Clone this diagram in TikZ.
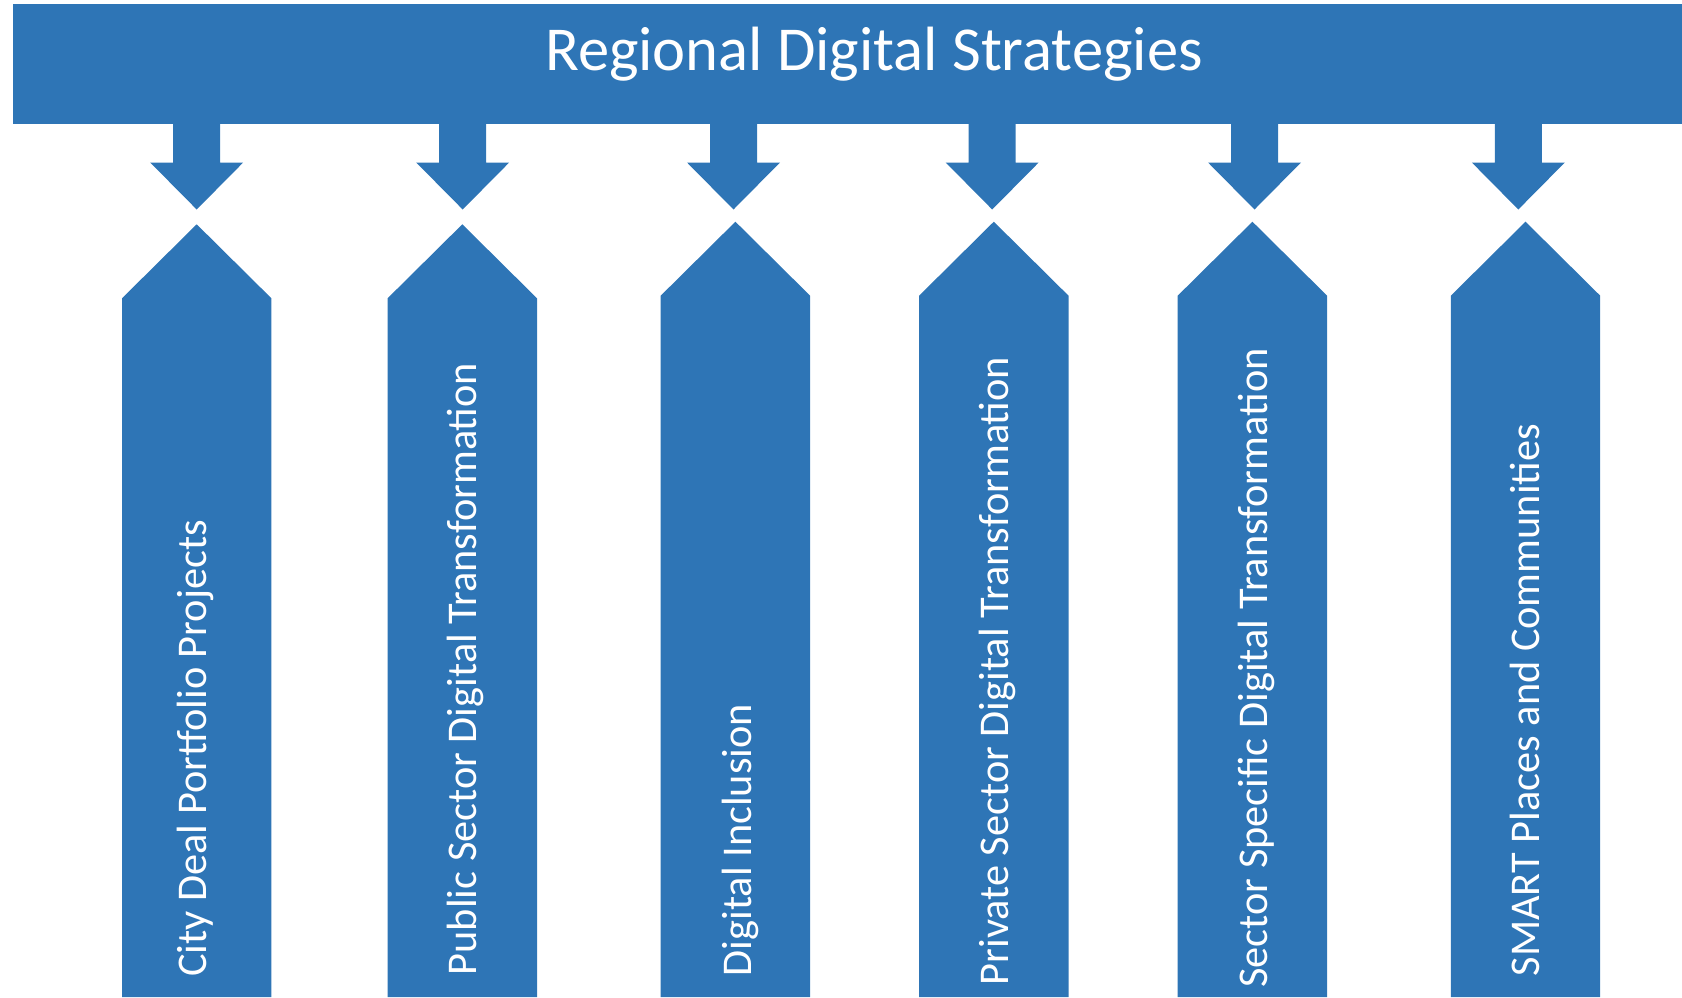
\documentclass[tikz,border=0pt]{standalone}
\usepackage{fontspec}
\setmainfont{Carlito}
\usetikzlibrary{positioning}
\definecolor{stratblue}{RGB}{46,117,182}

\begin{document}
\begin{tikzpicture}[x=0.02cm, y=-0.02cm,
    every node/.style={text=white, inner sep=0pt},
    titletext/.style={anchor=base, font=\fontsize{35.6}{42}\selectfont},
    pillartext/.style={rotate=90, anchor=base west, font=\fontsize{24.1}{30}\selectfont}]
    \useasboundingbox (0,0) rectangle (1682,997);

    % Banner across the top
    \node[fill=stratblue, minimum width=33.38cm, minimum height=2.4cm] (banner) at (847.5,64) {};
    \node[titletext] (title) at (874,71) {Regional Digital Strategies};

    % Block arrows down from the banner
    \foreach \ax in {196.7,462.7,733.5,992.2,1254.5,1518.3} {
        \fill[stratblue] (\ax-23.5,124) -- (\ax+23.5,124) -- (\ax+23.5,162.5)
            -- (\ax+46.5,162.5) -- (\ax,209.5) -- (\ax-46.5,162.5)
            -- (\ax-23.5,162.5) -- cycle;
    }

    % Pillars with their labels
    \foreach \px/\pt/\tx/\ty/\nm/\lbl in {
        196.7/224.3/206.2/977/cityDeal/City Deal Portfolio Projects,
        462.3/224.3/476.2/975.5/publicSector/Public Sector Digital Transformation,
        735.4/221.7/751.3/976.5/inclusion/Digital Inclusion,
        993.8/221.7/1008/985.5/privateSector/Private Sector Digital Transformation,
        1252.4/221.7/1267.8/988/sectorSpecific/Sector Specific Digital Transformation,
        1525.5/221.7/1539.5/976.5/smartPlaces/SMART Places and Communities} {
        \fill[stratblue] (\px-74.7,997) -- (\px-74.7,\pt+74) -- (\px,\pt)
            -- (\px+74.7,\pt+74) -- (\px+74.7,997) -- cycle;
        \node[pillartext] (\nm) at (\tx,\ty) {\lbl};
    }
\end{tikzpicture}
\end{document}
